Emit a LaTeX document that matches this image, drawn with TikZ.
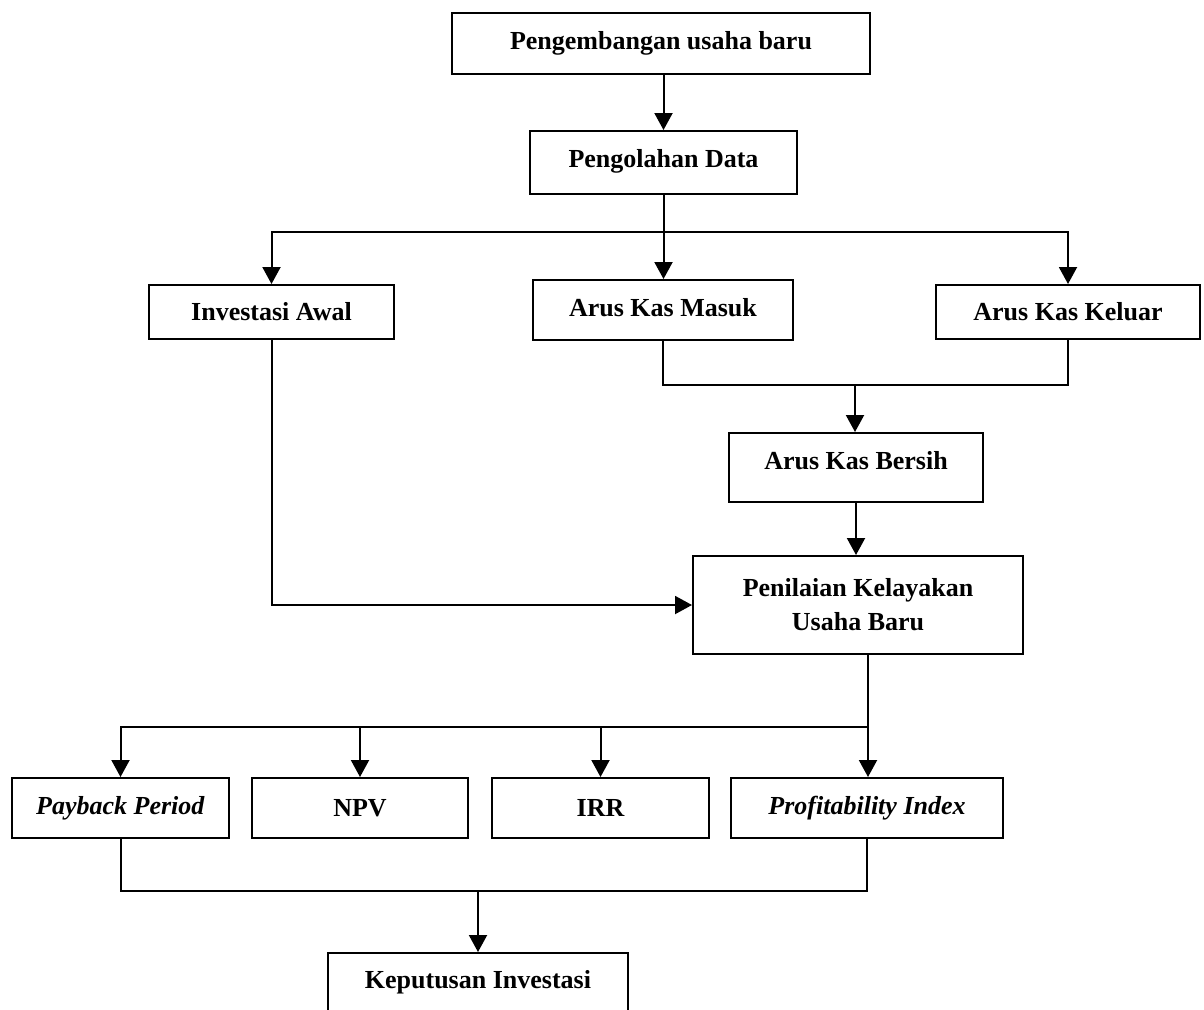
\documentclass[tikz,border=0pt]{standalone}
\usepackage{fontspec}
\setmainfont{Liberation Serif}
\usepackage{tikz}
\usetikzlibrary{shapes.geometric, arrows, arrows.meta}
\tikzstyle{box} = [draw, line width=1pt, rectangle, align=center, inner sep=0pt, font=\fontsize{13}{17}\selectfont\bfseries]
\tikzstyle{line} = [line width=1pt]
\tikzstyle{arrow} = [line width=1pt,-{Triangle[width=9pt,length=8.5pt]}]

\begin{document}
\begin{tikzpicture}[x=0.5pt, y=-0.5pt]
\useasboundingbox (0,0) rectangle (1204,1009);
\clip (0,0) rectangle (1204,1009);
\node[box, minimum width=209pt, minimum height=30.5pt] (usaha) at (661,43.5) {Pengembangan usaha baru};
\node[box, minimum width=133.5pt, minimum height=31.5pt, text height=9pt, text depth=4pt] (olah) at (663.5,162.5) {Pengolahan Data};
\node[box, minimum width=122.5pt, minimum height=27pt] (awal) at (271.5,312) {Investasi Awal};
\node[box, minimum width=130pt, minimum height=30pt, text height=9pt, text depth=3pt] (masuk) at (663,310) {Arus Kas Masuk};
\node[box, minimum width=132pt, minimum height=27pt] (keluar) at (1068,312) {Arus Kas Keluar};
\node[box, minimum width=127pt, minimum height=34.5pt, text height=9pt, text depth=7pt] (bersih) at (856,467.5) {Arus Kas Bersih};
\node[box, minimum width=165pt, minimum height=49pt] (nilai) at (858,605) {Penilaian Kelayakan\\Usaha Baru};
\node[box, minimum width=108.5pt, minimum height=30pt] (pbp) at (120.5,808) {\textit{Payback Period}};
\node[box, minimum width=108pt, minimum height=30pt] (npv) at (360,808) {NPV};
\node[box, minimum width=108.5pt, minimum height=30pt] (irr) at (600.5,808) {IRR};
\node[box, minimum width=136pt, minimum height=30pt] (pi) at (867,808) {\textit{Profitability Index}};
\node[box, minimum width=150pt, minimum height=29pt] (putus) at (478,982) {Keputusan Investasi};

\coordinate (cabang1) at (663.5,232);
\coordinate (gabung1) at (855,385);
\coordinate (cabang2) at (868,727);
\coordinate (gabung2) at (478,891);

\draw[arrow] (usaha.south -| olah.north) -- (olah.north);
\draw[line] (olah.south) -- (cabang1);
\draw[arrow] (cabang1) -| (awal.north);
\draw[arrow] (cabang1) -- (cabang1 |- masuk.north);
\draw[arrow] (cabang1) -| (keluar.north);
\draw[line] (masuk.south) |- (gabung1) -| (keluar.south);
\draw[arrow] (gabung1) -- (gabung1 |- bersih.north);
\draw[arrow] (bersih.south) -- (bersih.south |- nilai.north);
\draw[arrow] (awal.south) |- (nilai.west);
\draw[line] (nilai.south -| cabang2) -- (cabang2);
\draw[arrow] (cabang2) -| (pbp.north);
\draw[arrow] (cabang2) -| (npv.north);
\draw[arrow] (cabang2) -| (irr.north);
\draw[arrow] (cabang2) -- (cabang2 |- pi.north);
\draw[line] (pbp.south) |- (gabung2) -| (pi.south);
\draw[arrow] (gabung2) -- (putus.north);
\end{tikzpicture}
\end{document}
